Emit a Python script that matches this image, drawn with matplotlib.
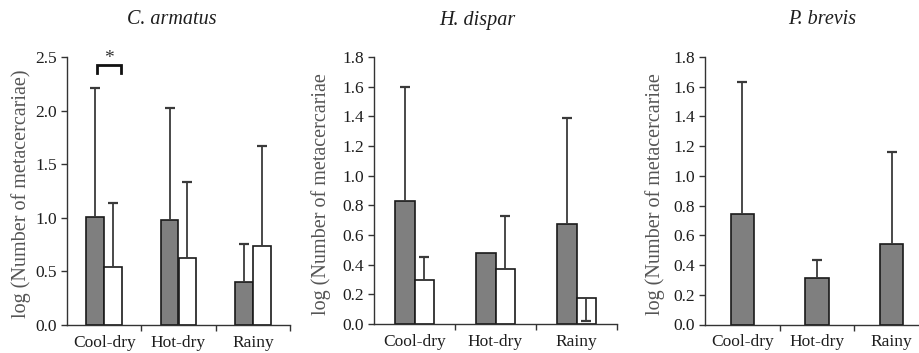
import numpy as np
import matplotlib
matplotlib.use("Agg")
import matplotlib.pyplot as plt

plt.rcParams['font.family'] = ['Liberation Serif', 'DejaVu Serif']

categories = ["Cool-dry", "Hot-dry", "Rainy"]

# C. armatus
ca_dark = [1.01, 0.98, 0.40]
ca_dark_top = [2.21, 2.02, 0.76]
ca_white = [0.545, 0.625, 0.74]
ca_white_top = [1.135, 1.33, 1.67]

# H. dispar (error bar end points; NaN = no bar)
hd_dark = [0.83, 0.48, 0.675]
hd_dark_top = [1.60, np.nan, 1.39]
hd_white = [0.30, 0.37, 0.175]
hd_white_end = [0.455, 0.73, 0.02]

# P. brevis
pb_dark = [0.745, 0.31, 0.54]
pb_dark_top = [1.63, 0.435, 1.16]

titles = ["C. armatus", "H. dispar", "P. brevis"]
ylabels = ["log (Number of metacercariae)", "log (Number of metacercariae", "log (Number of metacercariae"]

W, H = 919, 353
fig = plt.figure(figsize=(W / 100, H / 100), dpi=100)

def box(l, r, t, b):
    return [l / W, (H - b) / H, (r - l) / W, (b - t) / H]

ax1 = fig.add_axes(box(67, 290, 57, 325))
ax2 = fig.add_axes(box(374, 617, 57, 324))
ax3 = fig.add_axes(box(705, 929, 57, 324.5))

DARK = "#7f7f7f"
EDGE = "#1a1a1a"
ECOL = "#3a3a3a"
TXT = "#1e1e1e"

def errs(ax, xs, starts, ends):
    for x, s, e in zip(xs, starts, ends):
        if np.isnan(e):
            continue
        ax.vlines(x, s, e, color=ECOL, lw=1.3, zorder=3)
        ax.plot([x], [e], marker='_', markersize=7, mew=1.6, color=ECOL, zorder=3)

def style(ax, ymax, yticks, fmt, title, tx, ylabel, lx):
    ax.set_xlim(0, 3)
    ax.set_ylim(0, ymax)
    for s in ['top', 'right']:
        ax.spines[s].set_visible(False)
    for s in ['left', 'bottom']:
        ax.spines[s].set_color("#333333")
        ax.spines[s].set_linewidth(1.0)
    ax.set_yticks(yticks)
    ax.set_yticklabels([fmt.format(v) for v in yticks])
    ax.tick_params(axis='y', direction='out', length=4, width=1, color="#333333",
                   labelsize=12.5, labelcolor=TXT, pad=3)
    ax.set_xticks([1, 2, 3])
    ax.set_xticklabels([])
    ax.tick_params(axis='x', which='major', direction='out', length=4, width=1, color="#333333")
    ax.set_xticks([0.5, 1.5, 2.5], minor=True)
    ax.set_xticklabels(categories, minor=True)
    ax.tick_params(axis='x', which='minor', length=0, labelsize=12.5, labelcolor=TXT, pad=7)
    fig.text(tx / W, (H - 20) / H, title, ha='center', va='center', fontsize=14.5,
             style='italic', color=TXT)
    fig.text(lx / W, (H - 194) / H, ylabel, rotation=90, ha='center', va='center',
             fontsize=14.5, color="#555555")

x = np.arange(3) + 0.5
bw = 0.24

# Panel 1
ax1.bar(x - bw / 2, ca_dark, bw, color=DARK, edgecolor=EDGE, lw=1.2, zorder=2)
ax1.bar(x + bw / 2, ca_white, bw, color="white", edgecolor=EDGE, lw=1.2, zorder=2)
errs(ax1, x - bw / 2, ca_dark, ca_dark_top)
errs(ax1, x + bw / 2, ca_white, ca_white_top)
style(ax1, 2.5, [0.0, 0.5, 1.0, 1.5, 2.0, 2.5], "{:.1f}", titles[0], 172, ylabels[0], 21)
# significance bracket
ax1.plot([0.40, 0.40, 0.72, 0.72], [2.35, 2.43, 2.43, 2.35], color="#111111", lw=2.0,
         clip_on=False, solid_joinstyle='miter')
ax1.text(0.56, 2.49, "*", ha='center', va='center', fontsize=14, color="#333333", clip_on=False)

# Panel 2
ax2.bar(x - bw / 2, hd_dark, bw, color=DARK, edgecolor=EDGE, lw=1.2, zorder=2)
ax2.bar(x + bw / 2, hd_white, bw, color="white", edgecolor=EDGE, lw=1.2, zorder=2)
errs(ax2, x - bw / 2, hd_dark, hd_dark_top)
errs(ax2, x + bw / 2, hd_white, hd_white_end)
style(ax2, 1.8, [0.0, 0.2, 0.4, 0.6, 0.8, 1.0, 1.2, 1.4, 1.6, 1.8], "{:.1f}", titles[1], 477,
      ylabels[1], 321)

# Panel 3
bw3 = 0.31
ax3.bar(x, pb_dark, bw3, color=DARK, edgecolor=EDGE, lw=1.2, zorder=2)
errs(ax3, x, pb_dark, pb_dark_top)
style(ax3, 1.8, [0.0, 0.2, 0.4, 0.6, 0.8, 1.0, 1.2, 1.4, 1.6, 1.8], "{:.1f}", titles[2], 822,
      ylabels[2], 655)

fig.savefig("out.png", dpi=100)
